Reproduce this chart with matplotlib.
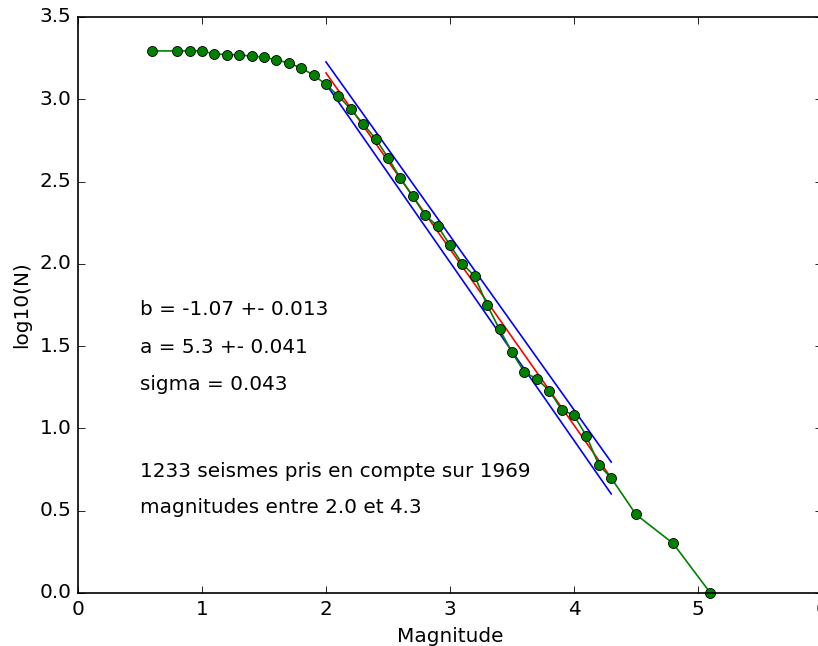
import numpy as np
import matplotlib
matplotlib.use('Agg')
import matplotlib.pyplot as plt

# magnitudes and log10 of cumulative counts
magnitudes = [0.6, 0.8, 0.9, 1.0, 1.1, 1.2, 1.3, 1.4, 1.5, 1.6, 1.7, 1.8, 1.9,
              2.0, 2.1, 2.2, 2.3, 2.4, 2.5, 2.6, 2.7, 2.8, 2.9, 3.0, 3.1, 3.2,
              3.3, 3.4, 3.5, 3.6, 3.7, 3.8, 3.9, 4.0, 4.1, 4.2, 4.3, 4.5, 4.8, 5.1]
log_n = [3.294, 3.294, 3.294, 3.294, 3.275, 3.272, 3.27, 3.262, 3.256, 3.24,
         3.22, 3.19, 3.147, 3.09, 3.02, 2.94, 2.85, 2.76, 2.645, 2.52, 2.41,
         2.295, 2.23, 2.114, 2.0, 1.924, 1.748, 1.602, 1.462, 1.342, 1.301,
         1.23, 1.114, 1.079, 0.954, 0.778, 0.699, 0.477, 0.301, 0.0]

# Gutenberg-Richter fit
b, db = -1.07, 0.013
a, da = 5.3, 0.041
sigma = 0.043
mag_min, mag_max = 2.0, 4.3
n_used, n_total = 1233, 1969

plt.style.use('classic')
fig = plt.figure(figsize=(818 / 120, 646 / 120), dpi=120, facecolor='white')
ax = fig.add_axes([78 / 818, 53 / 646, 744 / 818, 576 / 646])

xfit = np.array([mag_min, mag_max])
ax.plot(xfit, (a + da) + (b + db) * xfit, 'b-')
ax.plot(xfit, (a - da) + (b - db) * xfit, 'b-')
ax.plot(xfit, a + b * xfit, 'r-')
ax.plot(magnitudes, log_n, 'go-', clip_on=False)

ax.text(0.5, 1.69, f'b = {b} +- {db}')
ax.text(0.5, 1.46, f'a = {a} +- {da}')
ax.text(0.5, 1.235, f'sigma = {sigma}')
ax.text(0.5, 0.705, f'{n_used} seismes pris en compte sur {n_total}')
ax.text(0.5, 0.487, f'magnitudes entre {mag_min} et {mag_max}')

ax.set_xlim(0, 6)
ax.set_ylim(0, 3.5)
ax.set_xlabel('Magnitude')
ax.set_ylabel('log10(N)')

fig.savefig('out.png', dpi=120, facecolor='white')
